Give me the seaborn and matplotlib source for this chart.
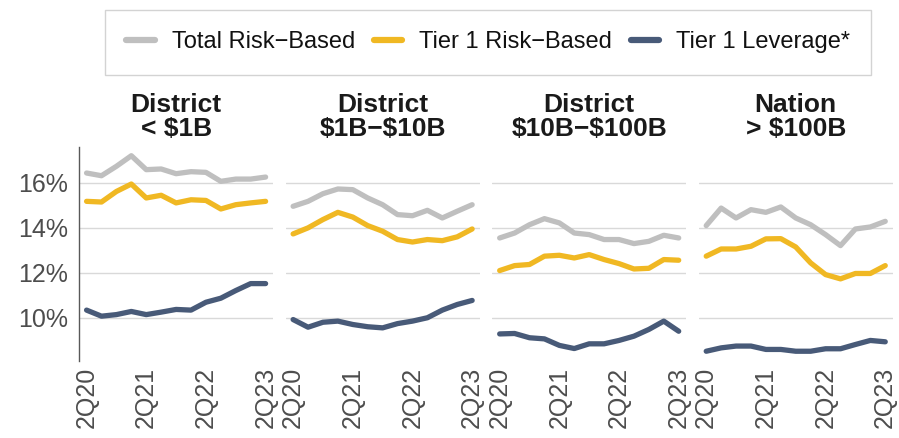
import pandas as pd
import numpy as np
import matplotlib.pyplot as plt
import seaborn as sns
from matplotlib.ticker import FuncFormatter

quarters = ["2Q20", "3Q20", "4Q20", "1Q21", "2Q21", "3Q21", "4Q21",
            "1Q22", "2Q22", "3Q22", "4Q22", "1Q23", "2Q23"]
panels = ["District\n< \\$1B", "District\n\\$1B\u2212\\$10B", "District\n\\$10B\u2212\\$100B", "Nation\n> \\$100B"]
series = ["Total Risk\u2212Based", "Tier 1 Risk\u2212Based", "Tier 1 Leverage*"]

total_lt1b    = [16.43, 16.31, 16.73, 17.20, 16.58, 16.61, 16.40, 16.49, 16.46, 16.06, 16.16, 16.16, 16.25]
tier1_lt1b    = [15.17, 15.14, 15.61, 15.94, 15.32, 15.44, 15.10, 15.24, 15.21, 14.83, 15.02, 15.10, 15.17]
lev_lt1b      = [10.33, 10.06, 10.13, 10.27, 10.13, 10.24, 10.36, 10.33, 10.68, 10.86, 11.20, 11.51, 11.51]

total_1_10    = [14.95, 15.17, 15.51, 15.72, 15.69, 15.32, 15.02, 14.58, 14.53, 14.77, 14.43, 14.73, 15.02]
tier1_1_10    = [13.72, 13.99, 14.36, 14.68, 14.47, 14.09, 13.84, 13.47, 13.36, 13.47, 13.42, 13.59, 13.94]
lev_1_10      = [9.91, 9.57, 9.79, 9.84, 9.69, 9.59, 9.54, 9.73, 9.84, 9.99, 10.33, 10.58, 10.76]

total_10_100  = [13.54, 13.76, 14.13, 14.40, 14.21, 13.76, 13.69, 13.47, 13.47, 13.29, 13.39, 13.66, 13.54]
tier1_10_100  = [12.09, 12.31, 12.36, 12.73, 12.77, 12.65, 12.80, 12.58, 12.40, 12.16, 12.19, 12.58, 12.55]
lev_10_100    = [9.27, 9.29, 9.10, 9.05, 8.76, 8.62, 8.83, 8.83, 8.98, 9.17, 9.47, 9.84, 9.39]

total_gt100   = [14.09, 14.87, 14.43, 14.80, 14.68, 14.92, 14.43, 14.13, 13.69, 13.20, 13.94, 14.03, 14.28]
tier1_gt100   = [12.73, 13.05, 13.05, 13.17, 13.50, 13.51, 13.14, 12.43, 11.91, 11.72, 11.96, 11.96, 12.31]
lev_gt100     = [8.50, 8.65, 8.73, 8.73, 8.58, 8.58, 8.50, 8.50, 8.61, 8.61, 8.80, 8.98, 8.92]

values = {
    panels[0]: [total_lt1b, tier1_lt1b, lev_lt1b],
    panels[1]: [total_1_10, tier1_1_10, lev_1_10],
    panels[2]: [total_10_100, tier1_10_100, lev_10_100],
    panels[3]: [total_gt100, tier1_gt100, lev_gt100],
}

rows = []
for p in panels:
    for s, vals in zip(series, values[p]):
        for i, v in enumerate(vals):
            rows.append({"panel": p, "series": s, "idx": i, "value": v})
df = pd.DataFrame(rows)

colors = ["#bfbfbf", "#f0b823", "#485a78"]
palette = dict(zip(series, colors))

sns.set_theme(style="white")
plt.rcParams["font.family"] = ["Liberation Sans", "DejaVu Sans"]

fig, axes = plt.subplots(1, 4, figsize=(8.99, 4.38), dpi=100, sharey=True)
fig.subplots_adjust(left=0.088, right=0.993, top=0.665, bottom=0.175, wspace=0.065)

for ax, p in zip(axes, panels):
    sub = df[df["panel"] == p]
    sns.lineplot(data=sub, x="idx", y="value", hue="series", hue_order=series,
                 palette=palette, linewidth=3.8, ax=ax, legend=False)
    ax.set_title(p, fontsize=19, fontweight="bold", color="#1a1a1a", pad=8, linespacing=1.0)
    ax.set_ylim(8.05, 17.6)
    ax.set_xlim(-0.5, 12.5)
    ax.set_yticks([10, 12, 14, 16])
    ax.yaxis.set_major_formatter(FuncFormatter(lambda v, _: f"{v:.0f}%"))
    ax.set_xticks([0, 4, 8, 12])
    ax.set_xticklabels([quarters[i] for i in [0, 4, 8, 12]], rotation=90)
    ax.grid(axis="y", color="#d9d9d9", linewidth=1)
    ax.set_axisbelow(True)
    ax.set_xlabel("")
    ax.set_ylabel("")
    ax.tick_params(axis="x", labelsize=18, labelcolor="#4d4d4d", length=0, pad=4)
    ax.tick_params(axis="y", labelsize=18, labelcolor="#4d4d4d", length=0, pad=8)
    for side in ["top", "right", "bottom", "left"]:
        ax.spines[side].set_visible(False)

axes[0].spines["left"].set_visible(True)
axes[0].spines["left"].set_color("#595959")
axes[0].spines["left"].set_linewidth(1)

handles = [plt.Line2D([], [], color=c, linewidth=4.5) for c in colors]
leg = fig.legend(handles, series, loc="upper center", bbox_to_anchor=(0.543, 0.977), ncol=3,
                 frameon=True, fontsize=17, handlelength=1.2, columnspacing=0.8,
                 handletextpad=0.72, borderpad=0.9, borderaxespad=0, fancybox=False,
                 labelcolor="#111111")
leg.get_frame().set_edgecolor("#c8c8c8")
leg.get_frame().set_linewidth(1)

plt.savefig("out.png", dpi=100)
plt.close()
